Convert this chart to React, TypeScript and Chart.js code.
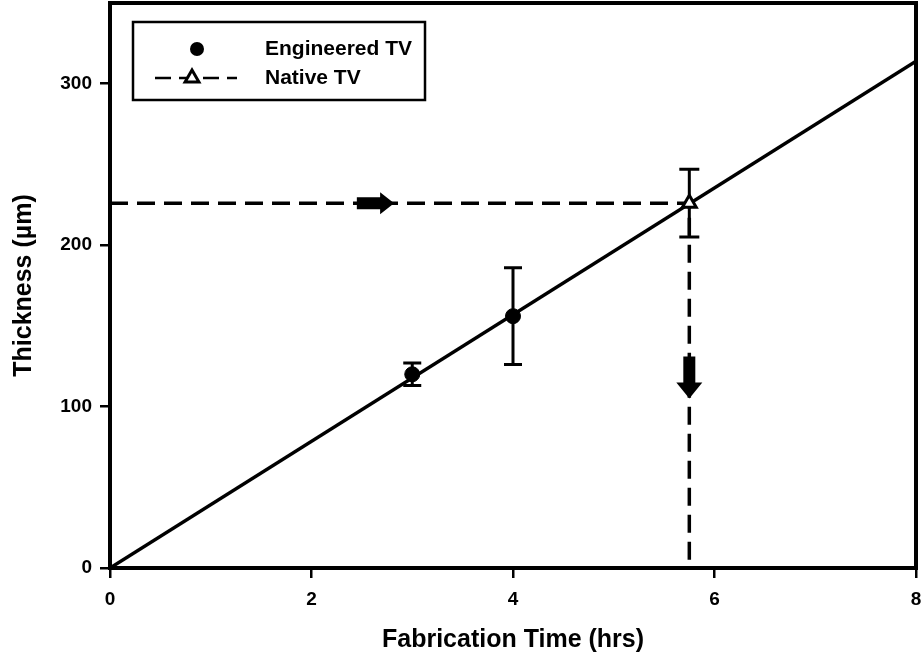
import React, { useEffect, useRef } from "react";
import { Chart, registerables } from "chart.js";

Chart.register(...registerables);

// ---- data ----
const fitX = [0, 8];
const fitY = [0, 314];
const engineeredX = [3, 4];
const engineeredY = [120, 156];
const engineeredErr = [7, 30];
const nativeX = [5.75];
const nativeY = [226];
const nativeErr = [21];
const guideX = [0, 5.75, 5.75];
const guideY = [226, 226, 0];
const arrowRightX = [2.45, 2.82];
const arrowRightY = [226, 226];
const arrowDownX = [5.75, 5.75];
const arrowDownY = [131, 105];
const xTicks = [0, 2, 4, 6, 8];
const yTicks = [0, 100, 200, 300];
const seriesLabels = ["Engineered TV", "Native TV"];
const xTitle = "Fabrication Time (hrs)";
const yTitle = "Thickness (\u00b5m)";

const FONT = "'Liberation Sans', Arial, sans-serif";

const pts = (xs: number[], ys: number[]) => xs.map((x, i) => ({ x, y: ys[i] }));

const overlay = {
  id: "overlay",
  beforeDatasetsDraw(chart: any) {
    const { ctx, scales } = chart;
    const x = scales.x;
    const y = scales.y;
    ctx.save();
    ctx.strokeStyle = "#000";
    ctx.lineWidth = 3;
    const bars = (xs: number[], ys: number[], es: number[], cap: number) => {
      xs.forEach((xv, i) => {
        const px = x.getPixelForValue(xv);
        const top = y.getPixelForValue(ys[i] + es[i]);
        const bot = y.getPixelForValue(ys[i] - es[i]);
        ctx.beginPath();
        ctx.moveTo(px, top);
        ctx.lineTo(px, bot);
        ctx.moveTo(px - cap / 2, top);
        ctx.lineTo(px + cap / 2, top);
        ctx.moveTo(px - cap / 2, bot);
        ctx.lineTo(px + cap / 2, bot);
        ctx.stroke();
      });
    };
    bars(engineeredX, engineeredY, engineeredErr, 18);
    bars(nativeX, nativeY, nativeErr, 20);
    ctx.restore();
  },
  afterDatasetsDraw(chart: any) {
    const { ctx, scales } = chart;
    const x = scales.x;
    const y = scales.y;
    ctx.save();
    ctx.fillStyle = "#000";
    // right arrow
    {
      const x1 = x.getPixelForValue(arrowRightX[0]);
      const x2 = x.getPixelForValue(arrowRightX[1]);
      const py = y.getPixelForValue(arrowRightY[0]);
      const hl = 14, bh = 6, hh = 11;
      ctx.beginPath();
      ctx.moveTo(x1, py - bh);
      ctx.lineTo(x2 - hl, py - bh);
      ctx.lineTo(x2 - hl, py - hh);
      ctx.lineTo(x2, py);
      ctx.lineTo(x2 - hl, py + hh);
      ctx.lineTo(x2 - hl, py + bh);
      ctx.lineTo(x1, py + bh);
      ctx.closePath();
      ctx.fill();
    }
    // down arrow
    {
      const px = x.getPixelForValue(arrowDownX[0]);
      const y1 = y.getPixelForValue(arrowDownY[0]);
      const y2 = y.getPixelForValue(arrowDownY[1]);
      const hl = 16, bw = 6, hw = 13;
      ctx.beginPath();
      ctx.moveTo(px - bw, y1);
      ctx.lineTo(px - bw, y2 - hl);
      ctx.lineTo(px - hw, y2 - hl);
      ctx.lineTo(px, y2);
      ctx.lineTo(px + hw, y2 - hl);
      ctx.lineTo(px + bw, y2 - hl);
      ctx.lineTo(px + bw, y1);
      ctx.closePath();
      ctx.fill();
    }
    ctx.restore();
  },
  afterDraw(chart: any) {
    const { ctx, chartArea } = chart;
    ctx.save();
    // frame
    ctx.strokeStyle = "#000";
    ctx.lineWidth = 4;
    ctx.strokeRect(chartArea.left, chartArea.top, chartArea.right - chartArea.left, chartArea.bottom - chartArea.top);
    // legend
    const bx = 133, by = 22, bw = 292, bh = 78;
    ctx.fillStyle = "#fff";
    ctx.fillRect(bx, by, bw, bh);
    ctx.lineWidth = 2.5;
    ctx.strokeRect(bx, by, bw, bh);
    const r1 = 49, r2 = 78;
    ctx.fillStyle = "#000";
    ctx.beginPath();
    ctx.arc(197, r1, 7, 0, Math.PI * 2);
    ctx.fill();
    ctx.setLineDash([16, 8]);
    ctx.lineWidth = 2.5;
    ctx.beginPath();
    ctx.moveTo(155, r2);
    ctx.lineTo(237, r2);
    ctx.stroke();
    ctx.setLineDash([]);
    const tr = 8, tx = 192;
    ctx.beginPath();
    ctx.moveTo(tx, r2 - tr);
    ctx.lineTo(tx + tr * 0.866, r2 + tr * 0.5);
    ctx.lineTo(tx - tr * 0.866, r2 + tr * 0.5);
    ctx.closePath();
    ctx.fillStyle = "#fff";
    ctx.fill();
    ctx.lineWidth = 3;
    ctx.stroke();
    ctx.fillStyle = "#000";
    ctx.font = `bold 21px ${FONT}`;
    ctx.textAlign = "left";
    ctx.textBaseline = "middle";
    ctx.fillText(seriesLabels[0], 265, r1);
    ctx.fillText(seriesLabels[1], 265, r2);
    ctx.restore();
  },
};

const zeroPad = (s: any) => {
  s.paddingTop = 0;
  s.paddingBottom = 0;
  s.paddingLeft = 0;
  s.paddingRight = 0;
};

export default function App() {
  const ref = useRef<HTMLCanvasElement | null>(null);
  useEffect(() => {
    if (!ref.current) return;
    const chart = new Chart(ref.current, {
      type: "scatter",
      data: {
        datasets: [
          {
            label: seriesLabels[1],
            data: pts(nativeX, nativeY),
            pointStyle: "triangle",
            pointRadius: 8,
            backgroundColor: "#fff",
            borderColor: "#000",
            borderWidth: 3,
            showLine: false,
          },
          {
            label: seriesLabels[0],
            data: pts(engineeredX, engineeredY),
            pointStyle: "circle",
            pointRadius: 7.5,
            backgroundColor: "#000",
            borderColor: "#000",
            borderWidth: 1,
            showLine: false,
          },
          {
            label: "fit",
            data: pts(fitX, fitY),
            showLine: true,
            pointRadius: 0,
            borderColor: "#000",
            borderWidth: 3.5,
          },
          {
            label: "guide",
            data: pts(guideX, guideY),
            showLine: true,
            pointRadius: 0,
            borderColor: "#000",
            borderWidth: 3.5,
            borderDash: [18, 9],
          },
        ] as any,
      },
      options: {
        animation: false,
        responsive: false,
        devicePixelRatio: 1,
        layout: { autoPadding: false, padding: { top: 3, right: 5, bottom: 0, left: 0 } },
        plugins: { legend: { display: false }, tooltip: { enabled: false } },
        scales: {
          x: {
            type: "linear",
            min: 0,
            max: 8,
            afterBuildTicks: (s: any) => {
              s.ticks = xTicks.map((v) => ({ value: v }));
            },
            afterFit: (s: any) => {
              s.height = 98;
              zeroPad(s);
            },
            ticks: {
              color: "#000",
              padding: 10,
              maxRotation: 0,
              font: { size: 19, weight: "bold", family: FONT },
            },
            grid: {
              display: true,
              drawOnChartArea: false,
              drawTicks: true,
              tickLength: 10,
              color: "#000",
              lineWidth: 2.5,
            },
            border: { display: false },
            title: {
              display: true,
              text: xTitle,
              color: "#000",
              font: { size: 25, weight: "bold", family: FONT },
              padding: { top: 0, bottom: 11 },
            },
          },
          y: {
            type: "linear",
            min: 0,
            max: 350,
            afterBuildTicks: (s: any) => {
              s.ticks = yTicks.map((v) => ({ value: v }));
            },
            afterFit: (s: any) => {
              s.width = 110;
              zeroPad(s);
            },
            ticks: {
              color: "#000",
              padding: 8,
              font: { size: 19, weight: "bold", family: FONT },
            },
            grid: {
              display: true,
              drawOnChartArea: false,
              drawTicks: true,
              tickLength: 10,
              color: "#000",
              lineWidth: 2.5,
            },
            border: { display: false },
            title: {
              display: true,
              text: yTitle,
              color: "#000",
              font: { size: 25, weight: "bold", family: FONT },
              padding: { top: 9, bottom: 0 },
            },
          },
        },
      } as any,
      plugins: [overlay],
    });
    return () => chart.destroy();
  }, []);
  return (
    <div style={{ position: "absolute", left: 0, top: 0, width: 921, height: 666, background: "#fff" }}>
      <canvas ref={ref} width={921} height={666} style={{ display: "block" }} />
    </div>
  );
}
